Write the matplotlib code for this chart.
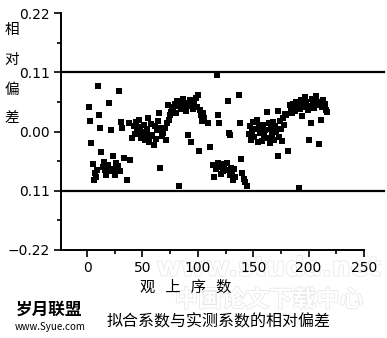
import matplotlib
matplotlib.use("Agg")
import matplotlib.pyplot as plt
import matplotlib.patheffects as pe

plt.rcParams["font.family"] = ["Noto Sans CJK SC", "DejaVu Sans"]

obs_index = [
    2, 3, 4, 5, 6, 7, 8, 9, 10, 11, 12, 13, 14, 15, 16, 17, 18, 19, 20, 21,
    22, 23, 24, 25, 26, 27, 28, 29, 30, 31, 32, 33, 36, 38, 39,
    41, 42, 43, 44, 45, 46, 47, 48, 49, 50, 51, 52, 53, 54, 55, 56, 57, 58,
    59, 60, 61, 62, 63, 64, 65, 66, 67, 68, 69, 70, 71, 72, 73, 74, 75, 76,
    77, 78, 79, 80, 81, 82, 83, 84, 85, 86, 87, 88, 89, 90, 91, 92, 93, 94,
    95, 96, 97, 98, 99, 100, 101, 102, 103, 104, 105, 106, 109, 111,
    114, 115, 116, 117, 118, 118, 119, 119, 120, 121, 122, 123, 124, 125, 126,
    127, 128, 129, 129, 130, 131, 132, 133, 134, 137, 138, 139, 140, 142, 143, 144,
    146, 147, 148, 149, 150, 151, 152, 153, 154, 155, 156, 157, 158, 159, 160,
    161, 162, 163, 164, 165, 166, 167, 168, 169, 170, 171, 172, 172, 173, 174,
    175, 176, 177, 178, 179, 180, 181, 183, 184, 185, 186, 187, 188, 189, 190,
    191, 192, 193, 194, 195, 196, 197, 198, 199, 200, 201, 202, 203, 204, 205,
    206, 207, 208, 209, 210, 211, 212, 213, 214, 215, 216, 217,
]
rel_dev = [
    0.045, 0.020, -0.022, -0.060, -0.090, -0.077, -0.085, -0.071, 0.084, 0.031,
    0.007, -0.038, -0.066, -0.056, -0.072, -0.080, -0.065, -0.062, 0.053, -0.074,
    0.003, -0.045, -0.070, -0.080, -0.058, -0.068, -0.064, 0.076, -0.074, 0.017,
    0.006, -0.050, -0.090, 0.015, -0.052,
    -0.012, 0.010, -0.005, 0.018, 0.006, -0.002, 0.022, 0.008, -0.012, 0.000,
    0.012, -0.015, -0.004, 0.004, 0.026, -0.019, -0.009, 0.014,
    -0.006, -0.025, 0.010, -0.014, 0.003, 0.020, 0.034, -0.068, 0.006, -0.008,
    -0.003, 0.006, -0.015, 0.015, 0.050, 0.022, 0.030, 0.037,
    0.045, 0.040, 0.052, 0.035, 0.056, 0.048, -0.102, 0.055, 0.042, 0.050,
    0.060, 0.044, 0.038, 0.053, -0.007, 0.047, 0.058, -0.019,
    0.050, 0.042, 0.055, 0.063, 0.045, 0.068, -0.036, 0.040, 0.030, 0.020,
    0.035, 0.026, 0.015, -0.028,
    -0.062, -0.084, -0.070, 0.105, 0.031, -0.059, 0.015, -0.064, -0.064, -0.078,
    -0.066, -0.074, -0.060, -0.072, -0.059,
    0.056, -0.003, -0.080, -0.006, -0.068, -0.075, -0.090, -0.070, -0.084, 0.068,
    0.015, -0.051, -0.077, -0.088, -0.093, -0.102,
    -0.005, 0.010, -0.015, 0.000, 0.018, -0.010, 0.005, 0.022, -0.020, 0.012,
    -0.002, 0.008, -0.018, 0.012, -0.008,
    0.002, 0.037, -0.012, 0.015, -0.022, 0.005, -0.005, 0.018, -0.015, 0.010,
    0.000, 0.038, -0.045, -0.010, 0.020,
    0.005, -0.018, 0.025, 0.012, 0.032, 0.031, -0.036, 0.050, 0.042, 0.035,
    0.052, 0.045, 0.038, 0.055, 0.048,
    -0.104, 0.042, 0.058, 0.028, 0.050, 0.045, 0.065, 0.055, 0.040, -0.015,
    0.048, 0.015, 0.060, 0.052, 0.044,
    0.058, 0.066, 0.050, -0.024, 0.054, 0.022, 0.046, 0.058, 0.048, 0.052,
    0.040, 0.036,
]

y_ticks = [0.22, 0.11, 0.0, -0.11, -0.22]
y_ticklabels = ["0.22", "0.11", "0.00", "0.11", "\u22120.22"]
x_ticks = [0, 50, 100, 150, 200, 250]
limit_lines = [0.11, -0.11]

fig = plt.figure(figsize=(3.87, 3.38), dpi=100)

# faint scan watermarks, drawn underneath everything
outline = [pe.withStroke(linewidth=0.9, foreground="#e2e2e2")]
fig.text(0.695, 0.205, "www.studa.net", fontsize=19, fontweight="bold", color="white",
         ha="center", va="center", path_effects=outline, family="DejaVu Sans", zorder=-1)
fig.text(0.695, 0.113, "中国论文下载中心", fontsize=17, fontweight="bold", color="white",
         ha="center", va="center", path_effects=outline, zorder=-1)

ax = fig.add_axes([0.1576, 0.2604, 0.783, 0.701])
ax.patch.set_alpha(0)

ax.scatter(obs_index, rel_dev, marker="s", s=17, color="black", linewidths=0)
for yv in limit_lines:
    ax.plot([-23.5, 268], [yv, yv], color="black", lw=1.6, clip_on=False)

ax.set_xlim(-23.5, 250)
ax.set_ylim(-0.22, 0.22)
ax.spines["top"].set_visible(False)
ax.spines["right"].set_visible(False)
ax.spines["left"].set_linewidth(1.4)
ax.spines["bottom"].set_linewidth(1.4)

ax.set_xticks(x_ticks)
ax.set_xticks([25, 75, 125, 175, 225], minor=True)
ax.set_yticks(y_ticks)
ax.set_yticklabels(y_ticklabels)
ax.set_yticks([0.165, 0.055, -0.055, -0.165], minor=True)
ax.tick_params(which="major", length=5, width=1.2, labelsize=10, pad=3)
ax.tick_params(which="minor", length=3, width=1.2)
for lbl in ax.get_xticklabels() + ax.get_yticklabels():
    lbl.set_family("DejaVu Sans")

# vertical y label, one character per line
for ch, yy in zip("相对偏差", [0.912, 0.823, 0.734, 0.651]):
    fig.text(0.031, yy, ch, fontsize=10.5, ha="center", va="center")

fig.text(0.48, 0.151, "观   上   序   数", fontsize=11, ha="center", va="center")
fig.text(0.565, 0.046, "拟合系数与实测系数的相对偏差", fontsize=11.5, ha="center", va="center")

fig.text(0.04, 0.083, "岁月联盟", fontsize=12, fontweight="bold", ha="left", va="center")
fig.text(0.038, 0.033, "www.Syue.com", fontsize=7, ha="left", va="center")

fig.savefig("out.png", dpi=100)
